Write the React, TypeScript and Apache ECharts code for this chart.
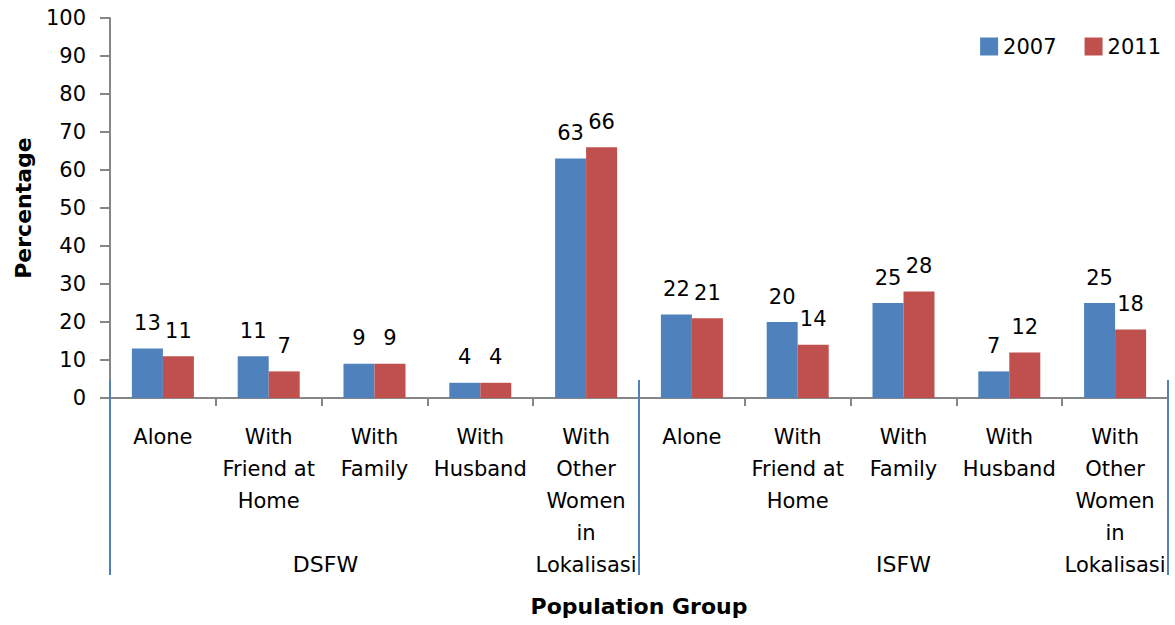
import React, { useEffect, useRef } from "react";
import * as echarts from "echarts";

const categories = [
  "Alone", "With\nFriend at\nHome", "With\nFamily", "With\nHusband", "With\nOther\nWomen\nin\nLokalisasi",
  "Alone", "With\nFriend at\nHome", "With\nFamily", "With\nHusband", "With\nOther\nWomen\nin\nLokalisasi",
];
const groups = ["DSFW", "ISFW"];
const values2007 = [13, 11, 9, 4, 63, 22, 20, 25, 7, 25];
const values2011 = [11, 7, 9, 4, 66, 21, 14, 28, 12, 18];
const yTicks = { min: 0, max: 100, interval: 10 };

const FONT = "'DejaVu Sans', sans-serif";
const AXIS_GRAY = "#868686";
const FS = 21;

export default function App() {
  const ref = useRef<HTMLDivElement>(null);
  useEffect(() => {
    if (!ref.current) return;
    const chart = echarts.init(ref.current, null, { renderer: "svg" });
    const gridBox = { left: 110, right: 7, top: 18, bottom: 227 };
    chart.setOption({
      animation: false,
      textStyle: { fontFamily: FONT, color: "#000" },
      legend: {
        top: 31,
        right: 9,
        icon: "rect",
        itemWidth: 18,
        itemHeight: 18,
        itemGap: 28,
        textStyle: { fontSize: 21, fontFamily: FONT, color: "#000" },
        data: ["2007", "2011"],
      },
      grid: [
        { ...gridBox },
        { ...gridBox },
      ],
      xAxis: [
        {
          type: "category",
          gridIndex: 0,
          data: categories,
          name: "Population Group",
          nameLocation: "middle",
          nameGap: 197,
          nameTextStyle: { fontSize: 22, fontWeight: "bold", fontFamily: FONT, color: "#000" },
          axisLine: { lineStyle: { color: AXIS_GRAY, width: 2 } },
          axisTick: { show: true, length: 8, lineStyle: { color: AXIS_GRAY, width: 2 } },
          axisLabel: {
            interval: 0,
            fontSize: FS,
            lineHeight: 32,
            margin: 23,
            color: "#000",
            fontFamily: FONT,
            verticalAlign: "top",
          },
        },
        {
          type: "category",
          gridIndex: 1,
          data: [
            { value: groups[0], textStyle: { padding: [0, 98, 0, 0] } },
            { value: groups[1] },
          ],
          position: "bottom",
          offset: -18,
          axisLine: { show: false },
          axisTick: { show: true, interval: 0, length: 195, lineStyle: { color: "#4F81BD", width: 2 } },
          axisLabel: {
            interval: 0,
            fontSize: 22,
            margin: 173,
            color: "#000",
            fontFamily: FONT,
          },
        },
      ],
      yAxis: [
        {
          type: "value",
          gridIndex: 0,
          min: yTicks.min,
          max: yTicks.max,
          interval: yTicks.interval,
          name: "Percentage",
          nameLocation: "middle",
          nameRotate: 90,
          nameGap: 76,
          nameTextStyle: { fontSize: 22, fontWeight: "bold", fontFamily: FONT, color: "#000" },
          axisLine: { show: true, lineStyle: { color: AXIS_GRAY, width: 2 } },
          axisTick: { show: true, length: 10, lineStyle: { color: AXIS_GRAY, width: 2 } },
          splitLine: { show: false },
          axisLabel: { fontSize: FS, margin: 24, color: "#000", fontFamily: FONT },
        },
        {
          type: "value",
          gridIndex: 1,
          min: 0,
          max: 100,
          show: false,
        },
      ],
      series: [
        {
          name: "2007",
          type: "bar",
          xAxisIndex: 0,
          yAxisIndex: 0,
          data: values2007,
          barWidth: 31,
          barGap: "0%",
          itemStyle: { color: "#4F81BD" },
          label: { show: true, position: "top", fontSize: FS, color: "#000", fontFamily: FONT, distance: 15 },
        },
        {
          name: "2011",
          type: "bar",
          xAxisIndex: 0,
          yAxisIndex: 0,
          data: values2011,
          barWidth: 31,
          barGap: "0%",
          itemStyle: { color: "#C0504D" },
          label: { show: true, position: "top", fontSize: FS, color: "#000", fontFamily: FONT, distance: 15 },
        },
      ],
    });
    return () => chart.dispose();
  }, []);
  return (
    <div
      ref={ref}
      style={{ position: "absolute", left: 0, top: 0, width: 1175, height: 625, background: "#fff" }}
    />
  );
}
